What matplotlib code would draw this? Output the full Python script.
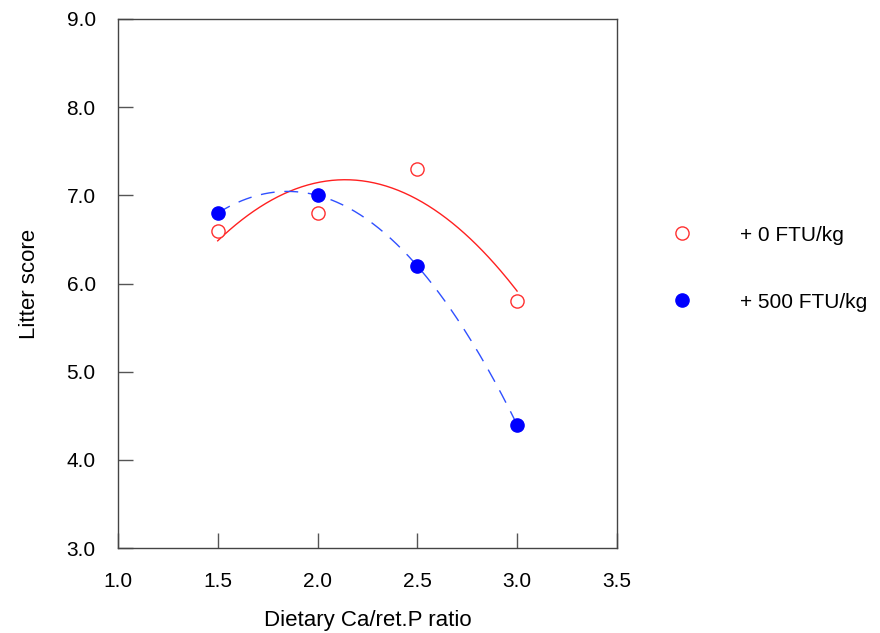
import numpy as np
import matplotlib

matplotlib.use("Agg")
import matplotlib.pyplot as plt
from matplotlib.lines import Line2D

plt.rcParams["font.family"] = ["Liberation Sans", "DejaVu Sans"]

ratio = [1.5, 2.0, 2.5, 3.0]
score_0ftu = [6.6, 6.8, 7.3, 5.8]
score_500ftu = [6.8, 7.0, 6.2, 4.4]
labels = ["+ 0 FTU/kg", "+ 500 FTU/kg"]

fig = plt.figure(figsize=(8.8, 6.33), dpi=100)
ax = fig.add_axes([0.134, 0.134, 0.567, 0.836])

# quadratic trend lines through each series
xs = np.linspace(min(ratio), max(ratio), 200)
fit0 = np.polyval(np.polyfit(ratio, score_0ftu, 2), xs)
fit500 = np.polyval(np.polyfit(ratio, score_500ftu, 2), xs)
ax.plot(xs, fit0, color="#ff2020", lw=1.0)
ax.plot(xs, fit500, color="#3050ff", lw=1.0, dashes=(10, 7))

ax.plot(ratio, score_0ftu, "o", ms=9.5, mfc="white", mec="#ff3030", mew=1.0)
ax.plot(ratio, score_500ftu, "o", ms=9.5, mfc="#0000ff", mec="#0000ff", mew=1.0)

ax.set_xlim(1.0, 3.5)
ax.set_ylim(3.0, 9.0)
ax.set_xticks(np.arange(1.0, 3.51, 0.5))
ax.set_yticks(np.arange(3.0, 9.01, 1.0))
ax.xaxis.set_major_formatter(matplotlib.ticker.FormatStrFormatter("%.1f"))
ax.yaxis.set_major_formatter(matplotlib.ticker.FormatStrFormatter("%.1f"))
ax.tick_params(direction="in", length=11, width=1.0, color="#555555",
               labelsize=15, top=False, right=False)
ax.tick_params(axis="x", pad=17)
ax.tick_params(axis="y", pad=16)
for s in ax.spines.values():
    s.set_color("#444444")
    s.set_linewidth(1.0)
ax.set_xlabel("Dietary Ca/ret.P ratio", fontsize=16, labelpad=14)
ax.set_ylabel("Litter score", fontsize=16, labelpad=19)

handles = [
    Line2D([], [], ls="none", marker="o", ms=9.5, mfc="white", mec="#ff3030", mew=1.0),
    Line2D([], [], ls="none", marker="o", ms=9.5, mfc="#0000ff", mec="#0000ff", mew=1.0),
]
fig.legend(handles, labels, loc="upper left", bbox_to_anchor=(0.742, 0.673),
           frameon=False, fontsize=15, labelspacing=2.3, handletextpad=2.3,
           handlelength=1.0)

fig.savefig("out.png", dpi=100)
